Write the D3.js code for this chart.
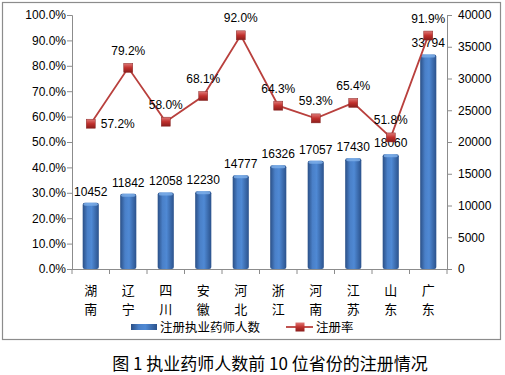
<!DOCTYPE html>
<html>
<head>
<meta charset="utf-8">
<script src="https://cdn.jsdelivr.net/npm/d3@7"></script>
<style>
body { margin: 0; background: #fff; }
text { font-family: "Liberation Sans", "Noto Sans CJK SC", sans-serif; }
.cjk { font-family: "Noto Sans CJK SC", sans-serif; }
</style>
</head>
<body>
<script>
// data
var provinces = ["湖南", "辽宁", "四川", "安徽", "河北", "浙江", "河南", "江苏", "山东", "广东"];
var pharmacists = [10452, 11842, 12058, 12230, 14777, 16326, 17057, 17430, 18060, 33794];
var regRate = [57.2, 79.2, 58.0, 68.1, 92.0, 64.3, 59.3, 65.4, 51.8, 91.9];
var leftTicks = [0, 10, 20, 30, 40, 50, 60, 70, 80, 90, 100];
var rightTicks = [0, 5000, 10000, 15000, 20000, 25000, 30000, 35000, 40000];
var rateLabelSide = ["right", "above", "above", "above", "above", "above", "above", "above", "above", "above"];

var width = 505, height = 375;
var plotL = 72, plotR = 447, plotT = 15, plotB = 269;

var svg = d3.select("body").append("svg")
    .attr("width", width)
    .attr("height", height);

var defs = svg.append("defs");
var bg = defs.append("linearGradient").attr("id", "barGrad")
    .attr("x1", "0%").attr("x2", "100%").attr("y1", "0%").attr("y2", "0%");
bg.append("stop").attr("offset", "0%").attr("stop-color", "#2a4f86");
bg.append("stop").attr("offset", "30%").attr("stop-color", "#4a80c8");
bg.append("stop").attr("offset", "55%").attr("stop-color", "#4f89d4");
bg.append("stop").attr("offset", "100%").attr("stop-color", "#2b528c");

var mg = defs.append("linearGradient").attr("id", "mkGrad")
    .attr("x1", "0%").attr("x2", "0%").attr("y1", "0%").attr("y2", "100%");
mg.append("stop").attr("offset", "0%").attr("stop-color", "#e07a78");
mg.append("stop").attr("offset", "50%").attr("stop-color", "#c0302d");
mg.append("stop").attr("offset", "100%").attr("stop-color", "#8a1e1c");

// outer frame
svg.append("rect")
    .attr("x", 2.5).attr("y", 2.5)
    .attr("width", 498).attr("height", 337)
    .attr("fill", "none")
    .attr("stroke", "#8c8c8c")
    .attr("stroke-width", 1.2);

var x = d3.scaleBand()
    .domain(provinces)
    .range([plotL, plotR])
    .paddingInner(0.57)
    .paddingOuter(0.285);

var yL = d3.scaleLinear().domain([0, 100]).range([plotB, plotT]);
var yR = d3.scaleLinear().domain([0, 40000]).range([plotB, plotT]);

// left axis
var axL = svg.append("g")
    .attr("transform", "translate(" + plotL + ",0)")
    .call(d3.axisLeft(yL).tickValues(leftTicks).tickSize(5).tickPadding(4)
        .tickFormat(function(d) { return d.toFixed(1) + "%"; }));

// right axis
var axR = svg.append("g")
    .attr("transform", "translate(" + plotR + ",0)")
    .call(d3.axisRight(yR).tickValues(rightTicks).tickSize(5).tickPadding(6)
        .tickFormat(d3.format("d")));

[axL, axR].forEach(function(a) {
    a.select(".domain").attr("stroke", "#8c8c8c");
    a.selectAll(".tick line").attr("stroke", "#8c8c8c");
    a.selectAll(".tick text").attr("font-size", 12).attr("fill", "#000");
});
axL.selectAll(".tick text").attr("x", -6);

// bottom axis line and category separators
svg.append("line")
    .attr("x1", plotL).attr("x2", plotR)
    .attr("y1", plotB + 0.5).attr("y2", plotB + 0.5)
    .attr("stroke", "#8c8c8c");

var seps = d3.range(provinces.length + 1).map(function(i) { return plotL + i * (plotR - plotL) / provinces.length; });
svg.selectAll(".sep").data(seps).enter().append("line")
    .attr("x1", function(d) { return d; })
    .attr("x2", function(d) { return d; })
    .attr("y1", plotB).attr("y2", plotB + 5)
    .attr("stroke", "#8c8c8c");

// category labels, vertical two characters
var cat = svg.selectAll(".cat").data(provinces).enter().append("g");
cat.each(function(d) {
    var g = d3.select(this);
    var cx = x(d) + x.bandwidth() / 2;
    d.split("").forEach(function(ch, i) {
        g.append("text")
            .attr("class", "cjk")
            .attr("x", cx)
            .attr("y", 295 + i * 19)
            .attr("text-anchor", "middle")
            .attr("font-size", 13)
            .text(ch);
    });
});

// bars
var bars = svg.selectAll(".bar").data(pharmacists).enter().append("g");
bars.append("rect")
    .attr("x", function(d, i) { return x(provinces[i]); })
    .attr("y", function(d) { return yR(d); })
    .attr("width", x.bandwidth())
    .attr("height", function(d) { return plotB - yR(d); })
    .attr("rx", 2).attr("ry", 2)
    .attr("fill", "url(#barGrad)");
bars.append("rect")
    .attr("x", function(d, i) { return x(provinces[i]) + 1; })
    .attr("y", function(d) { return yR(d); })
    .attr("width", x.bandwidth() - 2)
    .attr("height", 3)
    .attr("rx", 2)
    .attr("fill", "#7fb0ea")
    .attr("opacity", 0.8);

svg.selectAll(".blab").data(pharmacists).enter().append("text")
    .attr("x", function(d, i) { return x(provinces[i]) + x.bandwidth() / 2; })
    .attr("y", function(d) { return yR(d) - 7; })
    .attr("text-anchor", "middle")
    .attr("font-size", 12)
    .text(function(d) { return d; });

// line series
var line = d3.line()
    .x(function(d, i) { return x(provinces[i]) + x.bandwidth() / 2; })
    .y(function(d) { return yL(d); });

svg.append("path")
    .datum(regRate)
    .attr("d", line)
    .attr("fill", "none")
    .attr("stroke", "#b9403d")
    .attr("stroke-width", 1.8);

svg.selectAll(".mk").data(regRate).enter().append("rect")
    .attr("x", function(d, i) { return x(provinces[i]) + x.bandwidth() / 2 - 4.5; })
    .attr("y", function(d) { return yL(d) - 4.5; })
    .attr("width", 9).attr("height", 9)
    .attr("fill", "url(#mkGrad)")
    .attr("stroke", "#8a2a28")
    .attr("stroke-width", 0.5);

svg.selectAll(".rlab").data(regRate).enter().append("text")
    .attr("x", function(d, i) {
        var cx = x(provinces[i]) + x.bandwidth() / 2;
        return rateLabelSide[i] == "right" ? cx + 10 : cx;
    })
    .attr("y", function(d, i) {
        return rateLabelSide[i] == "right" ? yL(d) + 4 : yL(d) - 13;
    })
    .attr("text-anchor", function(d, i) { return rateLabelSide[i] == "right" ? "start" : "middle"; })
    .attr("font-size", 12)
    .text(function(d) { return d.toFixed(1) + "%"; });

// legend
var lg = svg.append("g");
lg.append("rect")
    .attr("x", 131).attr("y", 324)
    .attr("width", 26).attr("height", 6)
    .attr("fill", "url(#barGrad)");
lg.append("text").attr("class", "cjk")
    .attr("x", 160).attr("y", 332)
    .attr("font-size", 12.5)
    .text("注册执业药师人数");
lg.append("line")
    .attr("x1", 286).attr("x2", 313)
    .attr("y1", 327).attr("y2", 327)
    .attr("stroke", "#b9403d").attr("stroke-width", 1.8);
lg.append("rect")
    .attr("x", 295.5).attr("y", 322.5)
    .attr("width", 9).attr("height", 9)
    .attr("fill", "url(#mkGrad)");
lg.append("text").attr("class", "cjk")
    .attr("x", 316).attr("y", 332)
    .attr("font-size", 12.5)
    .text("注册率");

// caption
svg.append("text").attr("class", "cjk")
    .attr("x", 270).attr("y", 370)
    .attr("text-anchor", "middle")
    .attr("font-size", 17)
    .text("图 1 执业药师人数前 10 位省份的注册情况");
</script>
</body>
</html>
